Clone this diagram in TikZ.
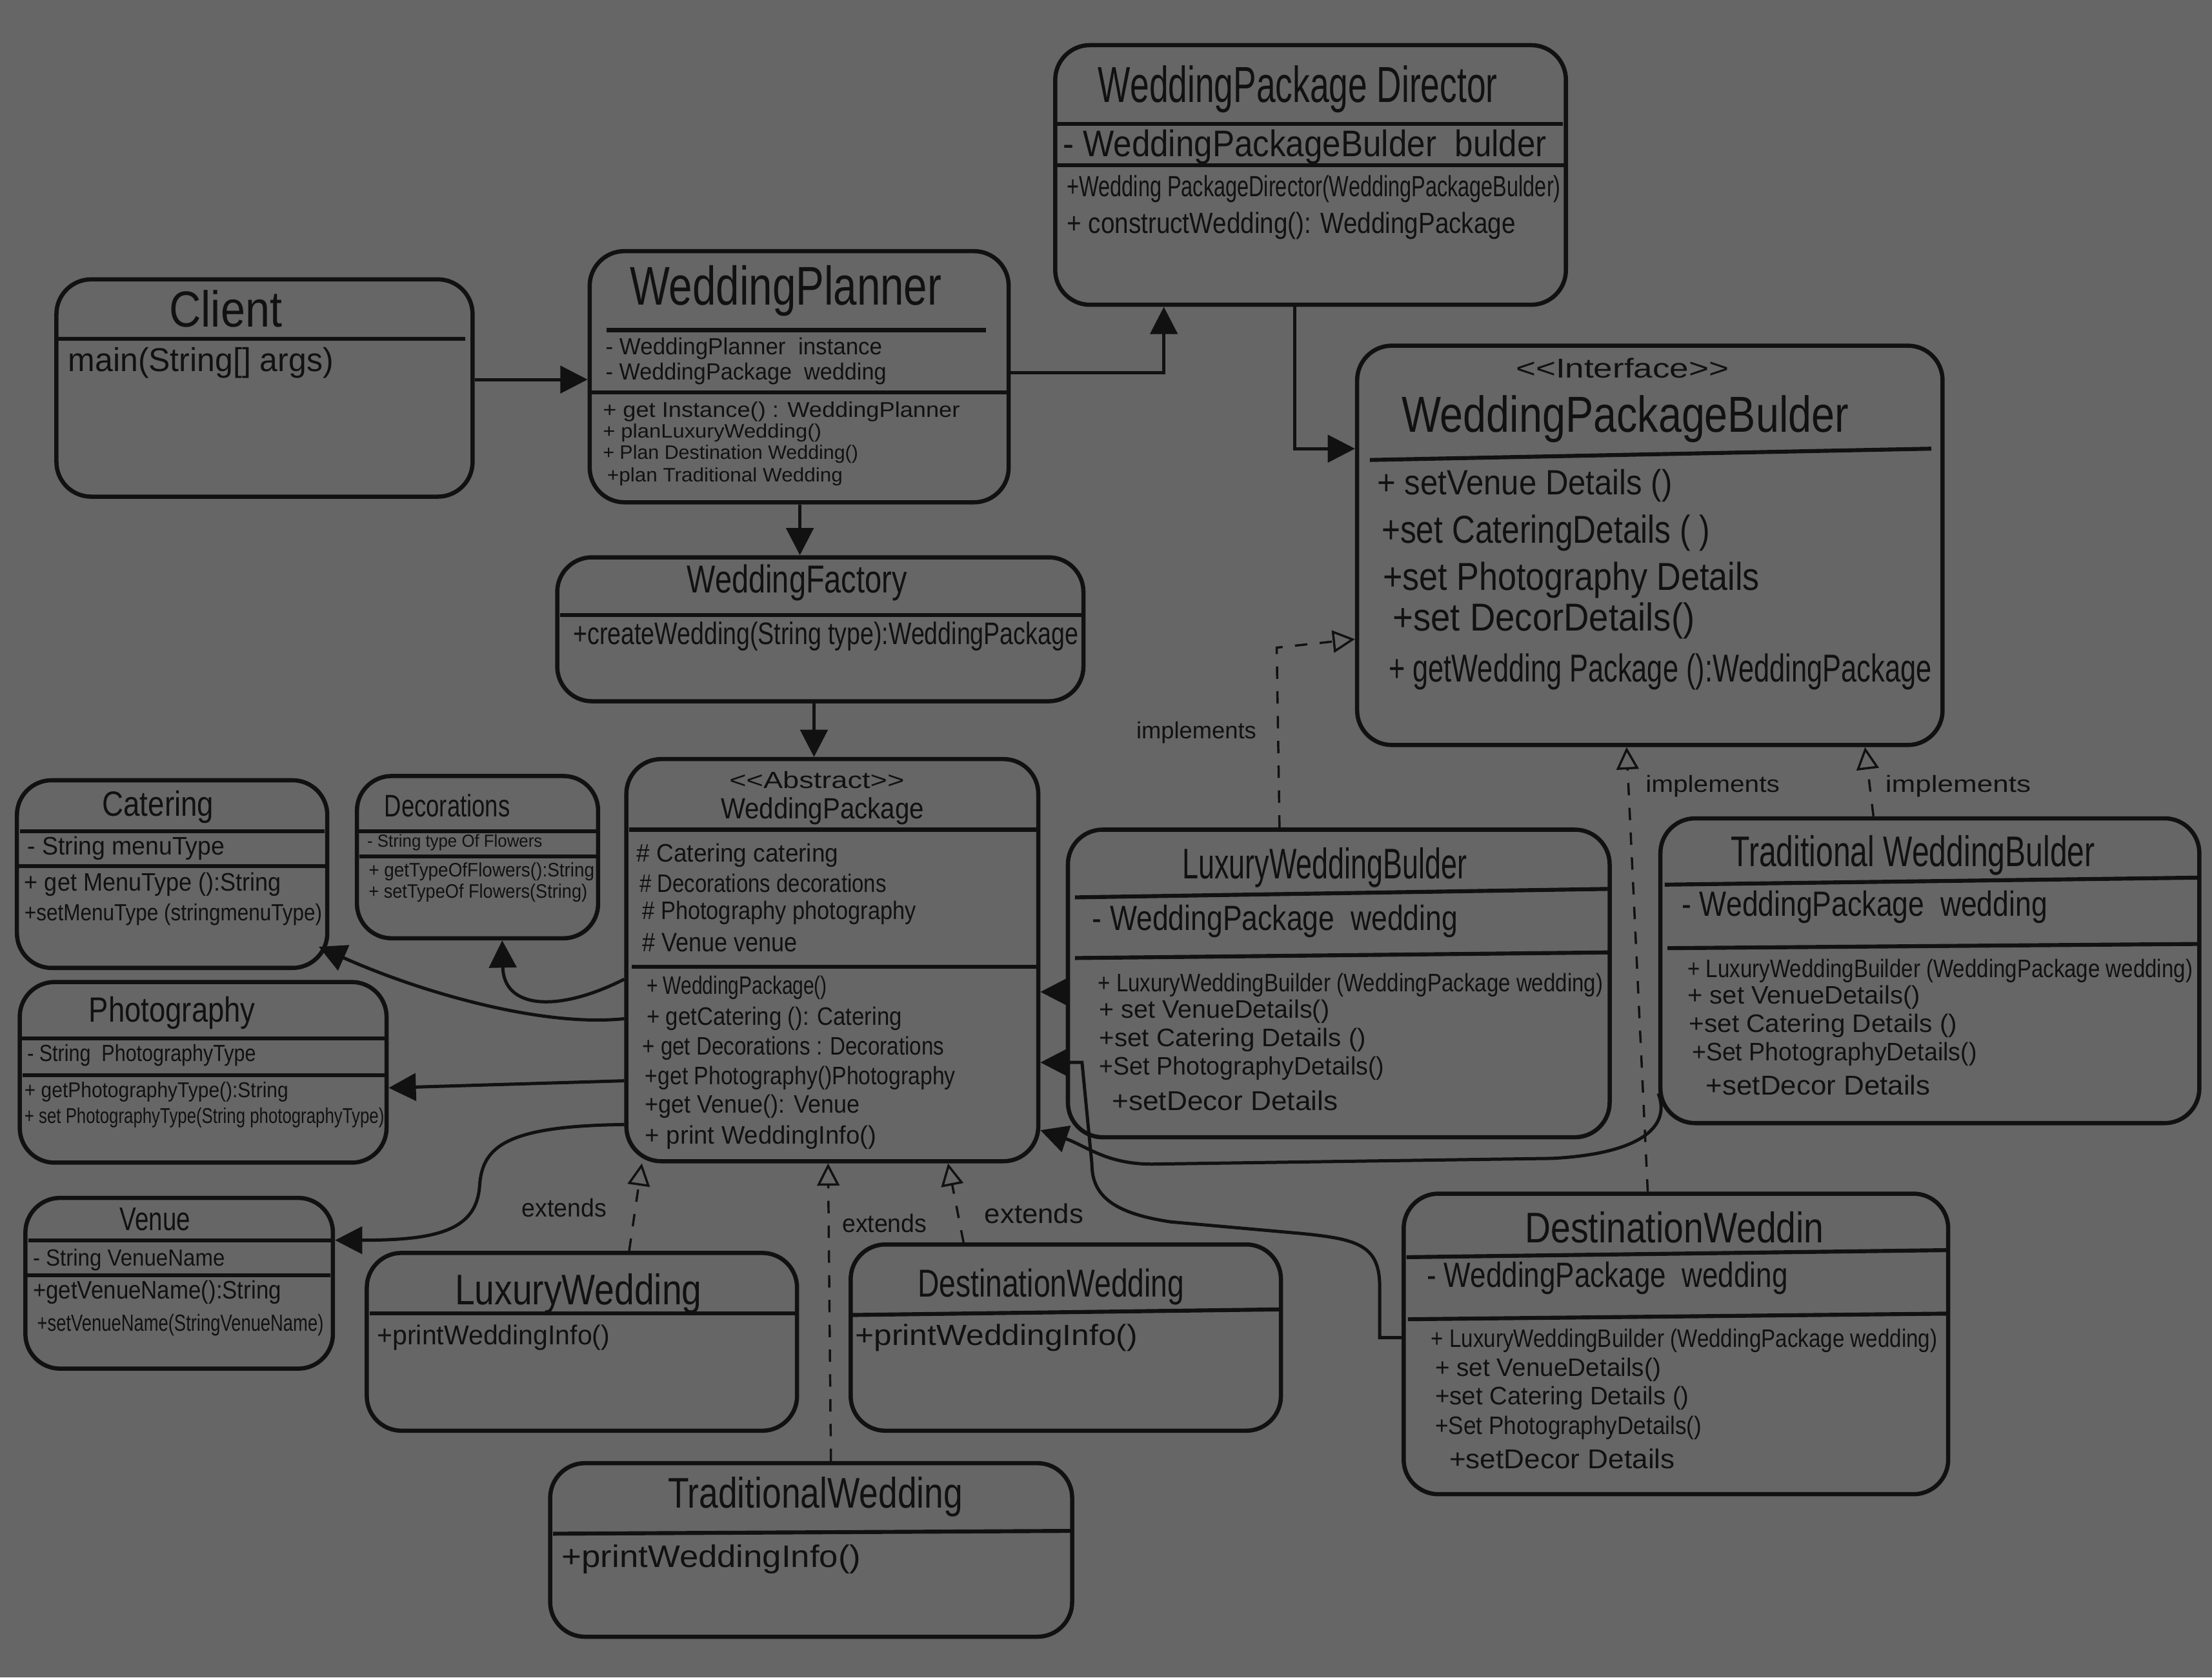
\documentclass[tikz,border=0pt]{standalone}
\usepackage{fontspec}
\setmainfont{Liberation Sans}[FakeStretch=0.75]
\usepackage{graphicx}
\usetikzlibrary{fit,arrows.meta}
\definecolor{bg}{HTML}{666666}
\definecolor{ink}{HTML}{111111}
\newlength\pxu \setlength\pxu{0.02cm}
\newcommand\fw[3]{\resizebox{#1\pxu}{#2\pxu}{#3}}
\begin{document}
\begin{tikzpicture}[x=0.02cm,y=-0.02cm,
 box/.style={draw=ink,line width=1.7pt,rounded corners=14pt,inner sep=0pt},
 div/.style={draw=ink,line width=1.6pt},
 tl/.style={inner sep=0pt,text=ink,anchor=west},
 tc/.style={inner sep=0pt,text=ink,anchor=center},
 assoc/.style={draw=ink,line width=1.3pt,-{Triangle[length=11pt,width=11pt]}},
 real/.style={draw=ink,line width=0.9pt,dash pattern=on 5pt off 5pt,-{Triangle[open,length=9pt,width=9pt,line width=0.9pt]}}]
\fill[bg] (0,0) rectangle (1568,1189);
\useasboundingbox (0,0) rectangle (1568,1189);

% ---------- boxes ----------
\node[box,fit={(748,32) (1110,216)}] (director) {};
\node[box,fit={(40,198) (335,352)}] (client) {};
\node[box,fit={(418,178) (715,356)}] (planner) {};
\node[box,fit={(395,395) (768,497)}] (factory) {};
\node[box,fit={(962,245) (1377,528)}] (builder) {};
\node[box,fit={(12,553) (232,686)}] (catering) {};
\node[box,fit={(253,550) (424,665)}] (decorations) {};
\node[box,fit={(444,538) (736,823)}] (package) {};
\node[box,fit={(14,696) (274,824)}] (photography) {};
\node[box,fit={(18,849) (236,970)}] (venue) {};
\node[box,fit={(260,888) (565,1014)}] (luxury) {};
\node[box,fit={(603,882) (908,1014)}] (destination) {};
\node[box,fit={(390,1037) (760,1160)}] (traditional) {};
\node[box,fit={(757,588) (1141,806)}] (lwb) {};
\node[box,fit={(1177,580) (1559,796)}] (twb) {};
\node[box,fit={(995,846) (1381,1059)}] (dwb) {};

% ---------- dividers ----------
\draw[div] (748,88) -- (1108,88);
\draw[div] (748,117) -- (1110,117);
\draw[div] (41,240) -- (330,240);
\draw[div] (430,234) -- (699,234);
\draw[div] (418,278) -- (715,278);
\draw[div] (397,436) -- (768,436);
\draw[div] (971,326) -- (1369,318);
\draw[div] (14,589) -- (230,589);
\draw[div] (12,614) -- (232,614);
\draw[div] (253,589) -- (424,589);
\draw[div] (255,607) -- (424,607);
\draw[div] (15,736) -- (274,736);
\draw[div] (16,762) -- (274,762);
\draw[div] (20,879) -- (236,879);
\draw[div] (18,904) -- (234,904);
\draw[div] (262,931) -- (565,931);
\draw[div] (603,932) -- (908,928);
\draw[div] (392,1087) -- (760,1085);
\draw[div] (446,588) -- (736,588);
\draw[div] (448,685) -- (736,685);
\draw[div] (762,636) -- (1141,630);
\draw[div] (762,679) -- (1141,675);
\draw[div] (1180,627) -- (1559,622);
\draw[div] (1182,672) -- (1559,669);
\draw[div] (997,891) -- (1381,886);
\draw[div] (998,935) -- (1381,931);

% ---------- texts ----------
\node[tc] (dir-t) at (920,63) {\fw{283}{26}{WeddingPackage Director}};
\node[tl] (dir-a) at (753,104) {\fw{343}{19}{- WeddingPackageBulder\ \ bulder}};
\node[tl] (dir-m1) at (756,134) {\fw{350}{15}{+Wedding PackageDirector(WeddingPackageBulder)}};
\node[tl] (dir-m2) at (756,160) {\fw{318}{15}{+ constructWedding(): WeddingPackage}};

\node[tc] (cli-t) at (160,219) {\fw{80}{26}{Client}};
\node[tl] (cli-m) at (48,257) {\fw{188}{17}{main(String[] args)}};

\node[tc] (pl-t) at (557,206) {\fw{221}{28}{WeddingPlanner}};
\node[tl] (pl-a1) at (429,247) {\fw{196}{12}{- WeddingPlanner\ \ instance}};
\node[tl] (pl-a2) at (429,265) {\fw{199}{12}{- WeddingPackage\ \ wedding}};
\node[tl] (pl-m1) at (427,292) {\fw{253}{11}{+ get Instance() : WeddingPlanner}};
\node[tl] (pl-m2) at (427,307) {\fw{155}{10}{+ planLuxuryWedding()}};
\node[tl] (pl-m3) at (427,322) {\fw{181}{10}{+ Plan Destination Wedding()}};
\node[tl] (pl-m4) at (430,338) {\fw{167}{10}{+plan Traditional Wedding}};

\node[tc] (fac-t) at (565,413) {\fw{156}{20}{WeddingFactory}};
\node[tl] (fac-m) at (406,451) {\fw{358}{16}{+createWedding(String type):WeddingPackage}};

\node[tc] (bld-s) at (1150,261) {\fw{151}{14}{<{}<Interface>{}>}};
\node[tc] (bld-t) at (1152,297) {\fw{317}{26}{WeddingPackageBulder}};
\node[tl] (bld-m1) at (976,344) {\fw{209}{18}{+ setVenue Details ()}};
\node[tl] (bld-m2) at (979,378) {\fw{233}{20}{+set CateringDetails ( )}};
\node[tl] (bld-m3) at (980,411) {\fw{267}{20}{+set Photography Details}};
\node[tl] (bld-m4) at (987,440) {\fw{214}{20}{+set DecorDetails()}};
\node[tl] (bld-m5) at (984,476) {\fw{385}{20}{+ getWedding Package ():WeddingPackage}};

\node[tc] (cat-t) at (112,572) {\fw{79}{18}{Catering}};
\node[tl] (cat-a) at (19,601) {\fw{140}{13}{- String menuType}};
\node[tl] (cat-m1) at (17,627) {\fw{182}{13}{+ get MenuType ():String}};
\node[tl] (cat-m2) at (17,648) {\fw{211}{12}{+setMenuType (stringmenuType)}};

\node[tc] (dec-t) at (317,571) {\fw{89}{16}{Decorations}};
\node[tl] (dec-a) at (260,597) {\fw{124}{9}{- String type Of Flowers}};
\node[tl] (dec-m1) at (261,618) {\fw{160}{10}{+ getTypeOfFlowers():String}};
\node[tl] (dec-m2) at (261,633) {\fw{155}{10}{+ setTypeOf Flowers(String)}};

\node[tc] (pho-t) at (122,718) {\fw{118}{18}{Photography}};
\node[tl] (pho-a) at (19,748) {\fw{162}{12}{- String\ \ PhotographyType}};
\node[tl] (pho-m1) at (17,774) {\fw{187}{11}{+ getPhotographyType():String}};
\node[tl] (pho-m2) at (17,792) {\fw{255}{11}{+ set PhotographyType(String photographyType)}};

\node[tc] (ven-t) at (110,864) {\fw{50}{16}{Venue}};
\node[tl] (ven-a) at (23,893) {\fw{136}{12}{- String VenueName}};
\node[tl] (ven-m1) at (23,916) {\fw{176}{13}{+getVenueName():String}};
\node[tl] (ven-m2) at (26,939) {\fw{203}{12}{+setVenueName(StringVenueName)}};

\node[tc] (pk-s) at (579,553) {\fw{124}{12}{<{}<Abstract>{}>}};
\node[tc] (pk-t) at (583,575) {\fw{144}{15}{WeddingPackage}};
\node[tl] (pk-a1) at (451,606) {\fw{143}{13}{\# Catering catering}};
\node[tl] (pk-a2) at (453,626) {\fw{175}{13}{\# Decorations decorations}};
\node[tl] (pk-a3) at (455,647) {\fw{194}{13}{\# Photography photography}};
\node[tl] (pk-a4) at (455,668) {\fw{110}{13}{\# Venue venue}};
\node[tl] (pk-m1) at (458,700) {\fw{128}{13}{+ WeddingPackage()}};
\node[tl] (pk-m2) at (458,722) {\fw{181}{13}{+ getCatering (): Catering}};
\node[tl] (pk-m3) at (455,743) {\fw{214}{13}{+ get Decorations : Decorations}};
\node[tl] (pk-m4) at (457,764) {\fw{220}{13}{+get Photography()Photography}};
\node[tl] (pk-m5) at (457,784) {\fw{152}{13}{+get Venue(): Venue}};
\node[tl] (pk-m6) at (457,806) {\fw{164}{13}{+ print WeddingInfo()}};

\node[tc] (lux-t) at (410,917) {\fw{175}{22}{LuxuryWedding}};
\node[tl] (lux-m) at (267,948) {\fw{165}{14}{+printWeddingInfo()}};
\node[tc] (des-t) at (745,912) {\fw{189}{20}{DestinationWedding}};
\node[tl] (des-m) at (606,948) {\fw{200}{15}{+printWeddingInfo()}};
\node[tc] (tra-t) at (578,1061) {\fw{209}{22}{TraditionalWedding}};
\node[tl] (tra-m) at (398,1105) {\fw{212}{16}{+printWeddingInfo()}};

\node[tc] (lwb-t) at (939,615) {\fw{202}{22}{LuxuryWeddingBulder}};
\node[tl] (lwb-a) at (774,653) {\fw{259}{18}{- WeddingPackage\ \ wedding}};
\node[tl] (lwb-m1) at (778,698) {\fw{358}{13}{+ LuxuryWeddingBuilder (WeddingPackage wedding)}};
\node[tl] (lwb-m2) at (779,717) {\fw{163}{13}{+ set VenueDetails()}};
\node[tl] (lwb-m3) at (779,737) {\fw{189}{13}{+set Catering Details ()}};
\node[tl] (lwb-m4) at (779,757) {\fw{202}{13}{+Set PhotographyDetails()}};
\node[tl] (lwb-m5) at (788,780) {\fw{160}{14}{+setDecor Details}};

\node[tc] (twb-t) at (1356,606) {\fw{258}{22}{Traditional WeddingBulder}};
\node[tl] (twb-a) at (1192,643) {\fw{259}{18}{- WeddingPackage\ \ wedding}};
\node[tl] (twb-m1) at (1196,688) {\fw{358}{13}{+ LuxuryWeddingBuilder (WeddingPackage wedding)}};
\node[tl] (twb-m2) at (1196,707) {\fw{165}{13}{+ set VenueDetails()}};
\node[tl] (twb-m3) at (1197,727) {\fw{190}{13}{+set Catering Details ()}};
\node[tl] (twb-m4) at (1199,747) {\fw{202}{13}{+Set PhotographyDetails()}};
\node[tl] (twb-m5) at (1209,769) {\fw{159}{14}{+setDecor Details}};

\node[tc] (dwb-t) at (1187,870) {\fw{212}{22}{DestinationWeddin}};
\node[tl] (dwb-a) at (1011,906) {\fw{256}{18}{- WeddingPackage\ \ wedding}};
\node[tl] (dwb-m1) at (1014,950) {\fw{359}{13}{+ LuxuryWeddingBuilder (WeddingPackage wedding)}};
\node[tl] (dwb-m2) at (1017,971) {\fw{160}{13}{+ set VenueDetails()}};
\node[tl] (dwb-m3) at (1017,991) {\fw{180}{13}{+set Catering Details ()}};
\node[tl] (dwb-m4) at (1017,1012) {\fw{189}{13}{+Set PhotographyDetails()}};
\node[tl] (dwb-m5) at (1027,1034) {\fw{160}{14}{+setDecor Details}};

% ---------- connector labels ----------
\node[tc] (lab-i1) at (848,519) {\fw{85}{12}{implements}};
\node[tc] (lab-i2) at (1214,557) {\fw{95}{12}{implements}};
\node[tc] (lab-i3) at (1388,557) {\fw{103}{12}{implements}};
\node[tc] (lab-e1) at (400,856) {\fw{60}{13}{extends}};
\node[tc] (lab-e2) at (627,867) {\fw{60}{13}{extends}};
\node[tc] (lab-e3) at (733,860) {\fw{70}{14}{extends}};

% ---------- helper coordinates ----------
\coordinate (yA) at (0,269);
\coordinate (bB) at (825,264);
\coordinate (bC) at (918,318);
\coordinate (xD) at (567,0);
\coordinate (xE) at (577,0);
\coordinate (yF) at (0,722);
\coordinate (catTip) at (226,671);
\coordinate (xG) at (356,0);
\coordinate (yG) at (0,694);
\coordinate (yH1) at (0,766);
\coordinate (yH2) at (0,771);
\coordinate (yI) at (0,797);
\coordinate (yI2) at (0,879);
\coordinate (xJ1) at (446,0);
\coordinate (xJ2) at (455,0);
\coordinate (xK1) at (589,0);
\coordinate (xK2) at (587,0);
\coordinate (xL1) at (683,0);
\coordinate (xL2) at (672,0);
\coordinate (yM) at (0,703);
\coordinate (yN) at (0,948);
\coordinate (yN2) at (0,753);
\coordinate (yO) at (0,775);
\coordinate (yO2) at (0,801);
\coordinate (xP) at (907,0);
\coordinate (bP) at (905,459);
\coordinate (yP) at (0,453);
\coordinate (xQ1) at (1168,0);
\coordinate (xQ2) at (1153,0);
\coordinate (xR1) at (1328,0);
\coordinate (xR2) at (1322,0);

% ---------- connectors ----------
\draw[assoc] (client.east |- yA) -- (planner.west |- yA);
\draw[assoc] (planner.east |- bB) -- (bB) -- (bB |- director.south);
\draw[assoc] (bC |- director.south) -- (bC) -- (builder.west |- bC);
\draw[assoc] (xD |- planner.south) -- (xD |- factory.north);
\draw[assoc] (xE |- factory.south) -- (xE |- package.north);
\draw[assoc] (package.west |- yF) .. controls (385,728) and (300,704) .. (catTip);
\draw[assoc] (package.west |- yG) .. controls (395,718) and (357,715) .. (xG |- decorations.south);
\draw[assoc] (package.west |- yH1) -- (photography.east |- yH2);
\draw[assoc] (package.west |- yI) .. controls (360,798) and (342,812) .. (340,840)
  .. controls (338,872) and (310,879) .. (venue.east |- yI2);
\draw[real] (xJ1 |- luxury.north) -- (xJ2 |- package.south);
\draw[real] (xK1 |- traditional.north) -- (xK2 |- package.south);
\draw[real] (xL1 |- destination.north) -- (xL2 |- package.south);
\draw[assoc] (lwb.west |- yM) -- (package.east |- yM);
\draw[assoc] (dwb.west |- yN) -- (978,948) -- (978,912)
  .. controls (978,882) and (962,878) .. (920,874) -- (830,866)
  .. controls (790,860) and (774,848) .. (774,825) -- (767,753) -- (package.east |- yN2);
\draw[assoc] (twb.west |- yO) .. controls (1185,800) and (1160,818) .. (1100,821) -- (820,825)
  .. controls (785,826) and (770,812) .. (package.east |- yO2);
\draw[real] (xP |- lwb.north) -- (bP) -- (builder.west |- yP);
\draw[real] (xQ1 |- dwb.north) -- (xQ2 |- builder.south);
\draw[real] (xR1 |- twb.north) -- (xR2 |- builder.south);
\end{tikzpicture}
\end{document}
